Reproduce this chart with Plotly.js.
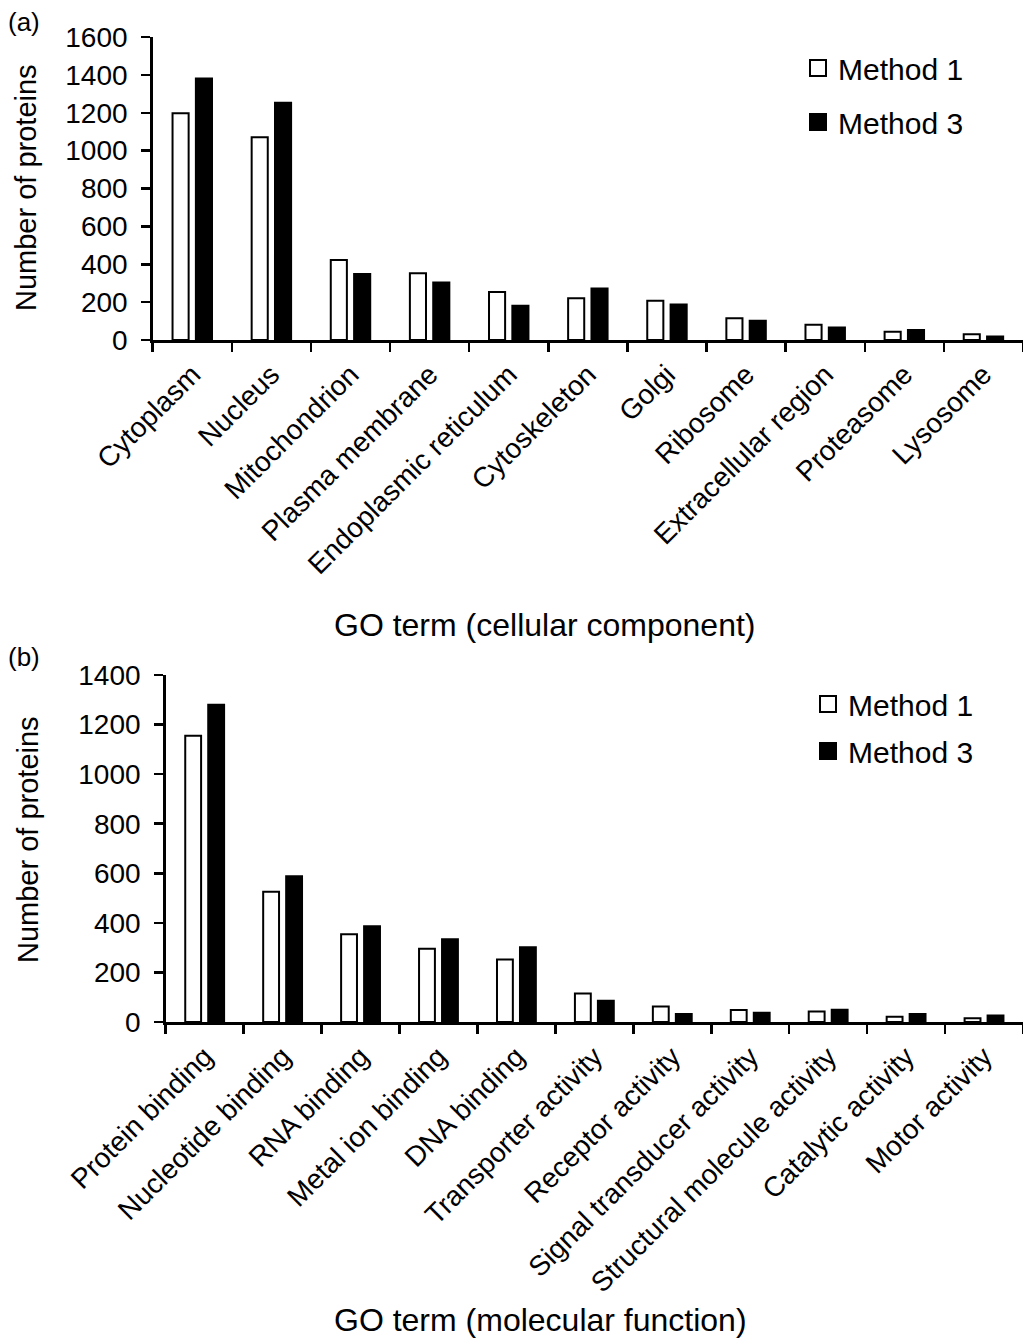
<!DOCTYPE html>
<html>
<head>
<meta charset="utf-8">
<script src="https://cdn.plot.ly/plotly-3.0.1.min.js"></script>
<style>
  html, body { margin: 0; padding: 0; background: #fff; }
  #chart { width: 1023px; height: 1338px; }
</style>
</head>
<body>
<div id="chart"></div>
<script>
// (a) GO term, cellular component
const ccCategories = ['Cytoplasm', 'Nucleus', 'Mitochondrion', 'Plasma membrane',
  'Endoplasmic reticulum', 'Cytoskeleton', 'Golgi', 'Ribosome',
  'Extracellular region', 'Proteasome', 'Lysosome'];
const ccMethod1 = [1197, 1070, 422, 352, 253, 221, 207, 115, 80, 44, 31];
const ccMethod3 = [1381, 1253, 348, 303, 181, 272, 188, 102, 66, 53, 18];

// (b) GO term, molecular function
const mfCategories = ['Protein binding', 'Nucleotide binding', 'RNA binding',
  'Metal ion binding', 'DNA binding', 'Transporter activity', 'Receptor activity',
  'Signal transducer activity', 'Structural molecule activity',
  'Catalytic activity', 'Motor activity'];
const mfMethod1 = [1155, 525, 354, 296, 252, 115, 63, 48, 42, 21, 15];
const mfMethod3 = [1280, 588, 386, 334, 302, 86, 32, 37, 49, 32, 26];

const seriesNames = ['Method 1', 'Method 3'];
const seriesFills = ['#ffffff', '#000000'];

const W = 1023, H = 1338;
const FONT = 'Liberation Sans, Arial, sans-serif';
const px = v => v / W;
const py = v => 1 - v / H;

function barTrace(cats, vals, i, xa, ya) {
  return {
    type: 'bar', x: cats, y: vals, name: seriesNames[i],
    xaxis: xa, yaxis: ya, showlegend: false,
    marker: { color: seriesFills[i], line: { color: '#000', width: 2 } },
    hoverinfo: 'x+y+name'
  };
}

// legend keys: square swatches for each series, one legend per panel
function legendKey(i, xa, ya, legend) {
  return {
    type: 'scatter', mode: 'markers', x: [null], y: [null],
    xaxis: xa, yaxis: ya, name: seriesNames[i],
    legend: legend, legendgroup: legend + i, showlegend: true,
    marker: { symbol: 'square', size: 16, color: seriesFills[i],
              line: { color: '#000', width: 2 } },
    hoverinfo: 'skip'
  };
}

const data = [
  barTrace(ccCategories, ccMethod1, 0, 'x', 'y'),
  barTrace(ccCategories, ccMethod3, 1, 'x', 'y'),
  barTrace(mfCategories, mfMethod1, 0, 'x2', 'y2'),
  barTrace(mfCategories, mfMethod3, 1, 'x2', 'y2'),
  legendKey(0, 'x', 'y', 'legend'),
  legendKey(1, 'x', 'y', 'legend'),
  legendKey(0, 'x2', 'y2', 'legend2'),
  legendKey(1, 'x2', 'y2', 'legend2')
];

const xCommon = {
  type: 'category', showline: true, linecolor: '#000', linewidth: 3,
  ticks: 'outside', tickson: 'boundaries', ticklen: 9, tickwidth: 2.5, tickcolor: '#000',
  tickangle: -45, ticklabelstandoff: 4,
  tickfont: { family: FONT, size: 28, color: '#000' },
  showgrid: false, zeroline: false, fixedrange: true
};
const yCommon = {
  showline: true, linecolor: '#000', linewidth: 2.5,
  ticks: 'outside', ticklen: 9, tickwidth: 2.5, tickcolor: '#000',
  ticklabelstandoff: 8,
  tickfont: { family: FONT, size: 28, color: '#000' }, dtick: 200,
  showgrid: false, zeroline: false, fixedrange: true
};

const legendCommon = {
  font: { family: FONT, size: 30, color: '#000' },
  bgcolor: 'rgba(0,0,0,0)', borderwidth: 0,
  traceorder: 'grouped', xanchor: 'left', yanchor: 'top'
};

function note(text, x, y, size, angle) {
  return { text: text, x: px(x), y: py(y), xref: 'paper', yref: 'paper',
    xanchor: 'center', yanchor: 'middle', textangle: angle || 0,
    showarrow: false, font: { family: FONT, size: size, color: '#000' } };
}

const layout = {
  width: W, height: H,
  margin: { l: 0, r: 0, t: 0, b: 0 },
  paper_bgcolor: '#fff', plot_bgcolor: '#fff',
  barmode: 'group', bargap: 0.41, bargroupgap: 0.31,
  font: { family: FONT, color: '#000' },
  xaxis: Object.assign({}, xCommon, { domain: [px(152.7), 1], anchor: 'y' }),
  yaxis: Object.assign({}, yCommon, { domain: [py(340), py(37)], range: [0, 1600], anchor: 'x' }),
  xaxis2: Object.assign({}, xCommon, { domain: [px(165.7), 1], anchor: 'y2' }),
  yaxis2: Object.assign({}, yCommon, { domain: [py(1022), py(675)], range: [0, 1400], anchor: 'x2' }),
  legend: Object.assign({}, legendCommon, { x: px(798), y: py(42), tracegroupgap: 12 }),
  legend2: Object.assign({}, legendCommon, { x: px(808), y: py(678), tracegroupgap: 5 }),
  showlegend: true,
  annotations: [
    note('(a)', 24, 22, 26),
    note('(b)', 24, 657, 26),
    note('Number of proteins', 26, 188, 29, -90),
    note('Number of proteins', 28, 840, 29, -90),
    note('GO term (cellular component)', 544, 625, 32),
    note('GO term (molecular function)', 540, 1320, 32)
  ]
};

Plotly.newPlot('chart', data, layout, { staticPlot: true, displayModeBar: false });
</script>
</body>
</html>
